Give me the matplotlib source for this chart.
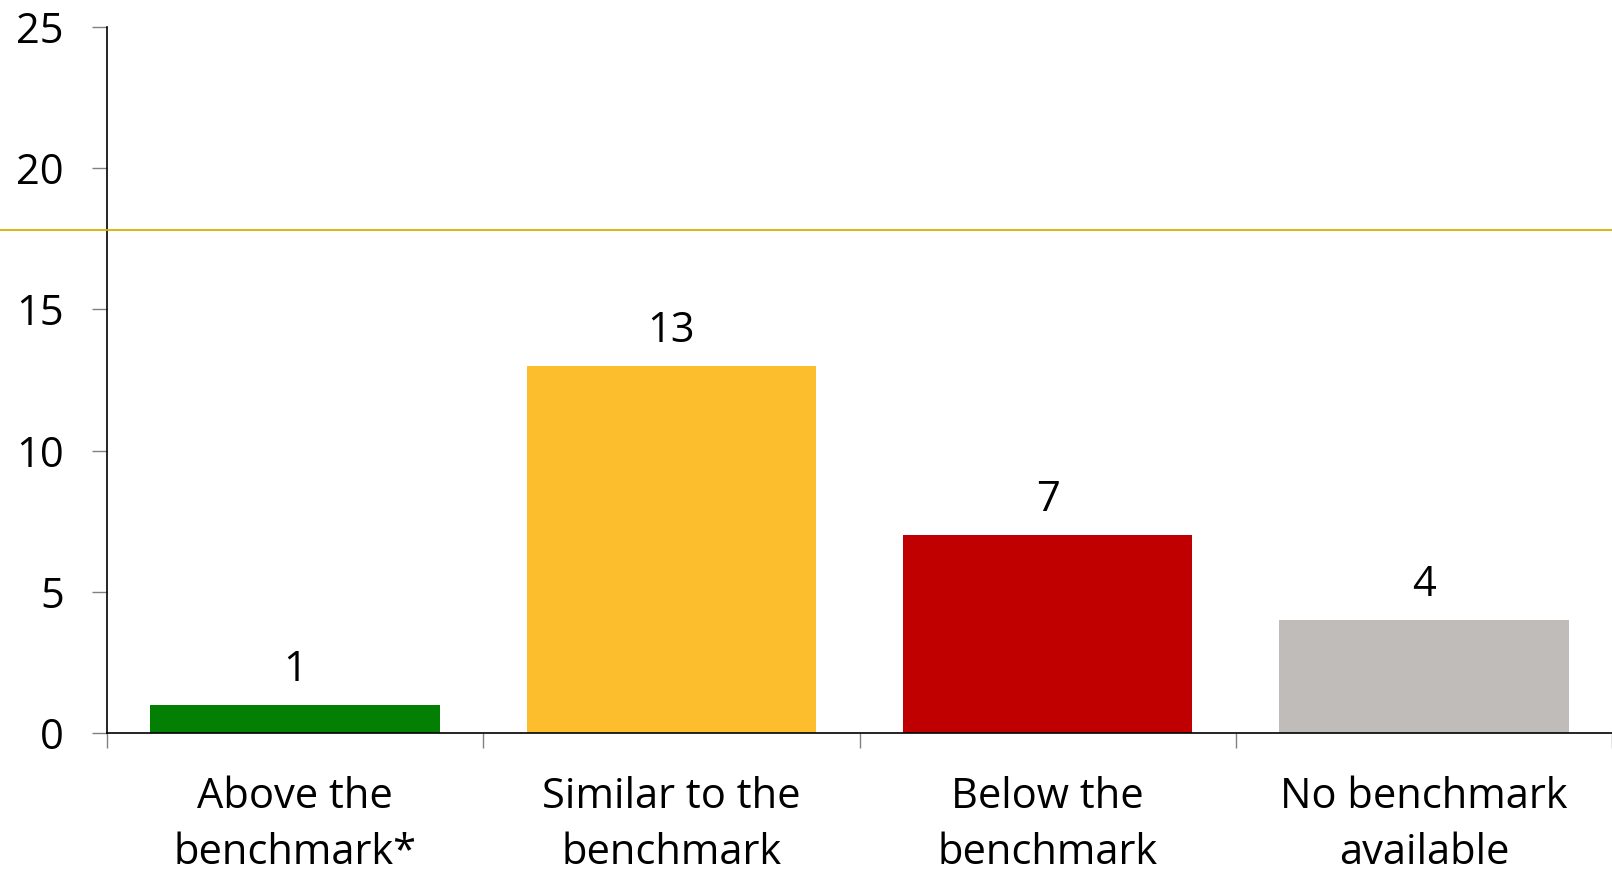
import matplotlib.pyplot as plt
from matplotlib.lines import Line2D
import matplotlib.transforms as mtransforms

# data
categories = ["Above the\nbenchmark*", "Similar to the\nbenchmark", "Below the\nbenchmark", "No benchmark\navailable"]
counts = [1, 13, 7, 4]
bar_colors = ["#038003", "#FDBE2E", "#C00000", "#C0BCB9"]
yticks = [0, 5, 10, 15, 20, 25]
ref_line = 17.8  # thin yellow line across the picture

plt.rcParams['font.family'] = ['Open Sans', 'DejaVu Sans']
fs = 30

fig = plt.figure(figsize=(16.12, 8.72), dpi=100)
ax = fig.add_axes([0.0664, 0.1594, 0.9336, 0.8096])

x = range(len(categories))
bars = ax.bar(x, counts, width=0.77, color=bar_colors, zorder=2)
for xi, v in zip(x, counts):
    ax.text(xi, v + 0.85, str(v), ha='center', va='baseline', fontsize=fs)

ax.set_xlim(-0.5, len(categories) - 0.5)
ax.set_ylim(0, 25)
ax.set_yticks(yticks)
ax.set_yticklabels([str(t) for t in yticks], fontsize=fs)
ax.set_xticks(list(x))
ax.set_xticklabels(categories, fontsize=fs, linespacing=1.43)
ax.set_xticks([i - 0.5 for i in range(len(categories) + 1)], minor=True)
ax.tick_params(axis='x', which='major', length=0, pad=31)
ax.tick_params(axis='x', which='minor', length=11, color='#808080', width=1)
ax.tick_params(axis='y', length=11, color='#808080', width=1, pad=20)

for s in ['top', 'right']:
    ax.spines[s].set_visible(False)
ax.spines['left'].set_color('black')
ax.spines['bottom'].set_color('black')
ax.spines['left'].set_linewidth(1.2)
ax.spines['bottom'].set_linewidth(1.2)

# line spanning full figure width at a data y-value
trans = mtransforms.blended_transform_factory(fig.transFigure, ax.transData)
ln = Line2D([0, 1], [ref_line, ref_line], transform=trans, color='#D2B400', linewidth=1.3, zorder=5)
ln.set_clip_on(False)
fig.add_artist(ln)

fig.savefig("out.png", dpi=100)
